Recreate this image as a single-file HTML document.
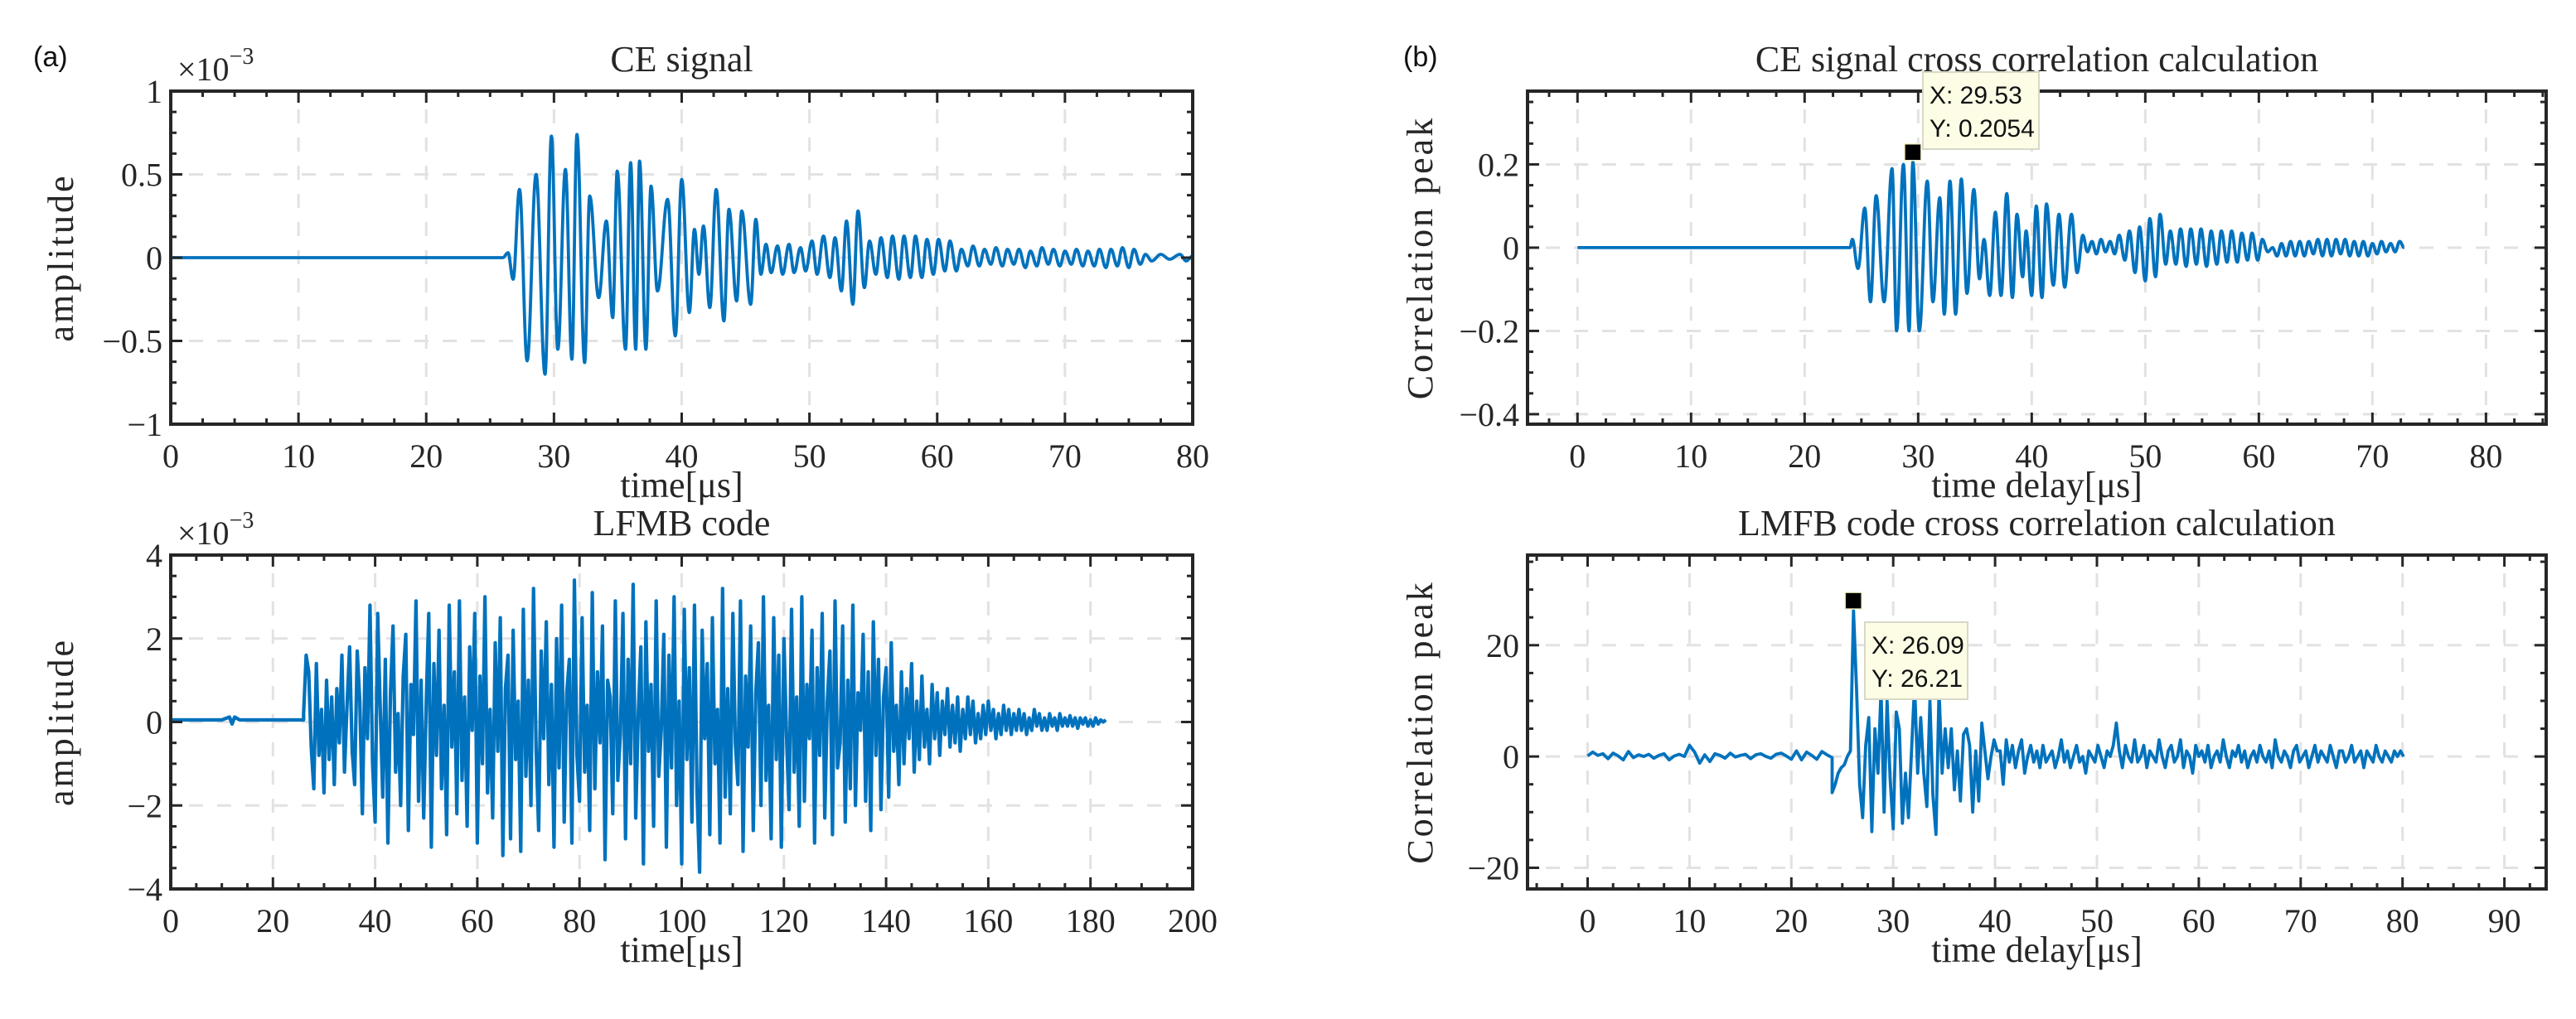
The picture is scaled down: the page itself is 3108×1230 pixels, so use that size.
<!DOCTYPE html>
<html><head><meta charset="utf-8"><style>
html,body{margin:0;padding:0;background:#fff;}
svg{display:block;}
.serif{font-family:"Liberation Serif","DejaVu Serif",serif;fill:#262626;}
.sans{font-family:"Liberation Sans","DejaVu Sans",sans-serif;fill:#111;}
</style></head><body>
<svg id="fig" width="3108" height="1230" viewBox="0 0 3108 1230" xmlns="http://www.w3.org/2000/svg"></svg>
<script>
// ---------- DATA ----------
// (a) top: CE signal extrema [time µs, amplitude x1e-3]
const ceSignal = [[0,0],[26.0,0],[26.4,0.03],[26.8,-0.13],[27.3,0.41],[27.9,-0.62],[28.6,0.5],[29.3,-0.7],[29.8,0.73],[30.3,-0.55],[30.9,0.53],[31.4,-0.61],[31.8,0.74],[32.4,-0.63],[32.8,0.37],[33.5,-0.24],[34.1,0.22],[34.6,-0.36],[34.95,0.52],[35.6,-0.55],[36.0,0.57],[36.4,-0.55],[36.7,0.58],[37.2,-0.55],[37.6,0.43],[38.1,-0.2],[38.9,0.35],[39.5,-0.47],[40.0,0.47],[40.6,-0.33],[41.0,0.17],[41.35,-0.1],[41.7,0.19],[42.2,-0.3],[42.7,0.41],[43.3,-0.38],[43.7,0.29],[44.3,-0.26],[44.7,0.28],[45.4,-0.28],[45.8,0.23],[46.2,-0.1],[46.6,0.08],[47.0,-0.09],[47.5,0.07],[47.9,-0.1],[48.4,0.08],[48.8,-0.09],[49.3,0.06],[49.7,-0.08],[50.2,0.1],[50.6,-0.1],[51.1,0.13],[51.6,-0.12],[52.0,0.12],[52.5,-0.2],[52.9,0.22],[53.4,-0.28],[53.8,0.28],[54.3,-0.18],[54.7,0.1],[55.2,-0.1],[55.6,0.12],[56.1,-0.12],[56.5,0.13],[57.0,-0.13],[57.4,0.13],[57.9,-0.12],[58.3,0.13],[58.8,-0.12],[59.2,0.11],[59.7,-0.1],[60.1,0.11],[60.6,-0.08],[61.0,0.1],[61.5,-0.08],[61.9,0.05],[62.4,-0.05],[62.8,0.07],[63.3,-0.05],[63.7,0.05],[64.2,-0.04],[64.6,0.06],[65.1,-0.05],[65.5,0.05],[66.0,-0.04],[66.4,0.05],[66.9,-0.06],[67.3,0.04],[67.8,-0.05],[68.2,0.06],[68.7,-0.04],[69.1,0.05],[69.6,-0.05],[70.0,0.04],[70.5,-0.04],[70.9,0.05],[71.4,-0.05],[71.8,0.04],[72.3,-0.05],[72.7,0.05],[73.2,-0.06],[73.6,0.05],[74.1,-0.05],[74.5,0.06],[75.0,-0.06],[75.4,0.05],[75.9,-0.04],[76.3,0.02],[76.8,-0.02],[77.5,0.02],[78.2,-0.01],[79.0,0.02],[79.5,-0.02],[80.0,0.01]];

// (a) bottom: LFMB code (x1e-3)
const lfmbPrefix = [[0,0.05],[10,0.05],[11.5,0.12],[12,-0.05],[12.5,0.12],[13.5,0.05],[26,0.05]];
const lfmbStart = 26;
const lfmbStep = 0.5;
const lfmbValues = [
0.2,1.6,1.2,-0.6,-1.6,1.4,-0.8,0.3,-1.7,1.0,-0.9,0.6,-1.5,0.8,-0.5,1.6,-1.2,0.4,1.8,-0.7,
-1.5,1.7,0.5,-2.2,1.3,-0.4,2.8,-1.0,-2.4,2.6,0.3,-1.8,1.5,-2.9,0.7,2.3,-1.2,0.2,-2.0,1.1,
2.1,-2.6,0.9,-0.3,2.9,-1.9,1.0,-2.3,0.5,2.6,-3.0,1.4,-0.8,2.2,-1.6,0.4,-2.7,2.8,-0.6,1.2,
-2.2,2.9,-1.4,0.6,-2.5,1.8,-0.2,2.6,-2.9,1.1,-1.0,3.0,-1.7,0.3,-2.3,1.9,-0.7,2.5,-3.2,0.8,
1.6,-2.8,2.2,-0.9,0.5,-3.1,2.7,-1.3,1.0,-2.0,3.2,-0.6,-2.6,1.7,-0.4,2.4,-1.5,0.9,-3.0,2.0,
-1.1,2.8,-2.4,0.7,1.5,-2.9,3.4,-0.8,-1.9,2.5,-1.2,0.4,-2.6,3.1,-1.6,1.2,-0.5,2.3,-3.3,1.0,
0.6,-2.2,2.9,-1.4,-0.3,2.6,-2.8,1.5,-1.0,3.3,-2.3,0.2,1.8,-3.4,2.4,-0.7,0.9,-2.5,2.9,-1.3,
-0.2,2.1,-3.0,1.6,-1.1,3.0,-2.0,0.5,-3.4,2.7,-0.9,1.3,-2.4,2.8,-1.7,-3.6,2.2,-0.4,1.4,-2.7,
2.5,-1.0,0.3,-2.9,3.2,-1.8,0.8,-2.2,2.6,-0.5,-1.5,2.9,-3.1,1.1,-0.6,2.3,-2.6,0.7,1.9,-2.0,
3.0,-1.4,0.4,-2.8,2.5,-0.9,1.6,-3.0,2.0,-0.3,-2.1,2.7,-1.2,0.6,-2.5,3.0,-1.9,0.9,-0.4,2.2,
-2.9,1.3,-0.8,2.6,-2.3,0.5,1.7,-2.7,2.9,-1.1,-0.5,2.3,-2.4,1.0,-1.6,2.8,-2.0,0.7,-0.2,2.1,
-1.9,1.2,-2.6,2.4,-0.8,1.5,-2.1,0.6,1.3,-1.8,1.9,-0.7,0.4,-1.5,1.2,-1.0,0.8,-0.4,1.4,-1.2,
0.5,-0.9,1.1,-0.6,0.3,-1.0,0.9,-0.4,0.7,-0.8,0.5,-0.3,0.8,-0.6,0.4,-0.5,0.6,-0.7,0.3,-0.4,
0.6,-0.3,0.5,-0.5,0.2,-0.4,0.4,-0.3,0.5,-0.2,0.3,-0.4,0.2,-0.3,0.4,-0.2,0.3,-0.3,0.2,-0.2,
0.3,-0.2,0.2,-0.3,0.1,-0.2,0.3,-0.1,0.2,-0.2,0.1,-0.2,0.2,-0.1,0.1,-0.2,0.2,-0.1,0.1,-0.1,
0.15,-0.1,0.1,-0.15,0.1,-0.05,0.1,-0.1,0.05,-0.1,0.1,-0.05,0.05,0.0,0.05];

// (b) top: CE cross correlation extrema [delay µs, value]
const ceCorr = [[0,0],[24.0,0],[24.2,0.02],[24.7,-0.05],[25.3,0.095],[25.8,-0.13],[26.3,0.125],[27.0,-0.13],[27.7,0.19],[28.1,-0.2],[28.7,0.2],[29.2,-0.2],[29.53,0.2054],[30.1,-0.2],[30.8,0.16],[31.3,-0.13],[31.9,0.12],[32.3,-0.16],[32.8,0.16],[33.3,-0.16],[33.8,0.165],[34.3,-0.11],[34.9,0.14],[35.4,-0.075],[35.8,0.02],[36.3,-0.115],[36.8,0.085],[37.3,-0.115],[37.8,0.13],[38.3,-0.12],[38.7,0.08],[39.2,-0.07],[39.5,0.04],[40.0,-0.115],[40.4,0.1],[40.9,-0.12],[41.3,0.105],[41.9,-0.09],[42.4,0.08],[42.9,-0.095],[43.5,0.08],[44.0,-0.06],[44.5,0.03],[44.9,-0.01],[45.3,0.015],[45.7,-0.015],[46.1,0.02],[46.5,-0.01],[46.9,0.015],[47.3,-0.015],[47.7,0.03],[48.2,-0.03],[48.6,0.04],[49.1,-0.06],[49.5,0.05],[50.0,-0.08],[50.4,0.07],[50.9,-0.07],[51.3,0.08],[51.8,-0.04],[52.2,0.04],[52.7,-0.04],[53.1,0.045],[53.6,-0.045],[54.0,0.045],[54.5,-0.04],[54.9,0.045],[55.4,-0.045],[55.8,0.04],[56.3,-0.04],[56.7,0.04],[57.2,-0.035],[57.6,0.04],[58.1,-0.035],[58.5,0.035],[59.0,-0.03],[59.4,0.035],[59.9,-0.03],[60.3,0.02],[60.8,-0.01],[61.2,0.0],[61.6,-0.02],[62.0,0.01],[62.4,-0.02],[62.8,0.015],[63.2,-0.02],[63.6,0.015],[64.0,-0.02],[64.4,0.015],[64.8,-0.015],[65.2,0.02],[65.6,-0.02],[66.0,0.02],[66.4,-0.02],[66.8,0.02],[67.2,-0.015],[67.6,0.02],[68.0,-0.02],[68.4,0.015],[68.8,-0.02],[69.2,0.015],[69.6,-0.02],[70.0,0.01],[70.4,-0.015],[70.8,0.015],[71.2,-0.01],[71.6,0.01],[72.0,-0.01],[72.4,0.015],[72.8,0.0]];

// (b) bottom: LMFB cross correlation
const lmfbPreStart = 0;
const lmfbPreStep = 0.5;
const lmfbPre = [0.1,0.8,0.2,0.5,-0.4,0.6,0.1,-0.6,0.9,-0.2,0.3,0.0,0.4,-0.3,0.2,0.5,-0.6,0.1,0.4,0.0,
2.0,0.8,-1.2,0.3,-0.9,0.5,0.2,-0.3,0.6,-0.1,0.2,0.4,-0.4,0.3,0.5,0.0,-0.3,0.4,0.6,0.1,
-0.5,1.0,-0.6,0.8,0.2,-0.5,0.9,0.3,-0.2];
const lmfbStart = 24.0;
const lmfbStep = 0.3;
const lmfbMain = [-6.5,-5,-3,-2,-1.5,0,1,26.21,12,-5,-11,2,7,-13.5,5,-3,12,-10,10,-4,
-13,8,5,-12,-3,-11,1,13,-3,7,-3,-9,10,-7,-14,12,-3,5,-2,5,
-6,1,-8,4,5,2,-10,1,-8,6,1,-4,0,3,1,1,-5,3,-1,2,
-2,1,3,-3,0,2,-1,1,-2,2,-1,0,1,-2,0,3,-1,1,-2,0,
2,-1,0,-3,1,0,-1,2,0,-2,1,0,2,6,1,-2,2,0,-1,3,
-1,0,2,-2,1,0,-1,3,0,-2,1,2,-1,0,3,-2,1,0,-3,2,
0,1,-1,2,-2,0,1,-1,3,0,-2,1,0,2,-1,1,-2,0,1,-1,
2,0,-1,1,-2,3,0,-1,1,0,-2,1,2,-1,0,1,-2,0,2,-1,
1,0,-1,2,0,-2,1,1,-1,0,2,-1,0,1,-2,1,0,-1,2,0,
-1,1,0,-1,1,0,1,0];

// tick labels
const a1YTicks = [-1,-0.5,0,0.5,1];
const a1YLabels = ["\u22121","\u22120.5","0","0.5","1"];
const a1XTicks = [0,10,20,30,40,50,60,70,80];
const a2YTicks = [-4,-2,0,2,4];
const a2YLabels = ["\u22124","\u22122","0","2","4"];
const a2XTicks = [0,20,40,60,80,100,120,140,160,180,200];
const b1YTicks = [-0.4,-0.2,0,0.2];
const b1YLabels = ["\u22120.4","\u22120.2","0","0.2"];
const b1XTicks = [0,10,20,30,40,50,60,70,80];
const b2YTicks = [-20,0,20];
const b2YLabels = ["\u221220","0","20"];
const b2XTicks = [0,10,20,30,40,50,60,70,80,90];

// data tips
const tipB1 = {x:29.53, y:0.2054};
const tipB2 = {x:26.09, y:26.21};

// ---------- DRAWING ----------
const NS = "http://www.w3.org/2000/svg";
const svg = document.getElementById('fig');
function mk(tag, attrs, parent){
  const e = document.createElementNS(NS, tag);
  for (const k in attrs) e.setAttribute(k, attrs[k]);
  (parent||svg).appendChild(e);
  return e;
}
function txt(s, x, y, cls, size, anchor, parent){
  const t = mk('text', {x:x, y:y, class:cls, 'font-size':size, 'text-anchor':anchor||'middle'}, parent);
  t.textContent = s;
  return t;
}

function makeAxis(c){
  const g = mk('g', {});
  
  
  const sx = v => c.x0 + (v - c.xmin) / (c.xmax - c.xmin) * (c.x1 - c.x0);
  const sy = v => c.y1 - (v - c.ymin) / (c.ymax - c.ymin) * (c.y1 - c.y0);
  const grid = mk('g', {stroke:'#e2e2e2', 'stroke-width':3, 'stroke-dasharray':'17,17', fill:'none'}, g);
  
  
  c.xticks.forEach(v => { const X = sx(v); mk('line', {x1:X, x2:X, y1:c.y0+22, y2:c.y1-4}, grid); });
  c.yticks.forEach(v => { const Y = sy(v); mk('line', {x1:c.x0+22, x2:c.x1-4, y1:Y, y2:Y}, grid); });
  return {g, sx, sy, c};
}
function finishAxis(A){
  const c = A.c, g = A.g, sx = A.sx, sy = A.sy;
  const ticks = mk('g', {stroke:'#262626', 'stroke-width':3, fill:'none'}, g);
  
  
  for (let v = Math.ceil(c.xmin / c.xminor) * c.xminor; v <= c.xmax + 1e-9; v += c.xminor) {
    const X = sx(v);
    const major = c.xticks.some(t => Math.abs(t - v) < 1e-6);
    const L = major ? 14 : 7;
    mk('line', {x1:X, x2:X, y1:c.y1, y2:c.y1-L}, ticks);
    mk('line', {x1:X, x2:X, y1:c.y0, y2:c.y0+L}, ticks);
  }
  for (let v = Math.ceil(c.ymin / c.yminor) * c.yminor; v <= c.ymax + 1e-9; v += c.yminor) {
    const Y = sy(v);
    const major = c.yticks.some(t => Math.abs(t - v) < 1e-6);
    const L = major ? 14 : 7;
    mk('line', {x1:c.x0, x2:c.x0+L, y1:Y, y2:Y}, ticks);
    mk('line', {x1:c.x1, x2:c.x1-L, y1:Y, y2:Y}, ticks);
  }
  const box = mk('rect', {x:c.x0, y:c.y0, width:c.x1-c.x0, height:c.y1-c.y0, fill:'none', stroke:'#262626', 'stroke-width':4}, g);
  
  
  const xl = mk('g', {}, g);
  
  
  c.xticks.forEach(v => txt(String(v), sx(v), c.y1 + 52, 'serif', 40, 'middle', xl));
  const yl = mk('g', {}, g);
  
  
  c.yticks.forEach((v, i) => txt(c.ylabels[i], c.x0 - 10, sy(v) + 14, 'serif', 40, 'end', yl));
  const t = txt(c.title, (c.x0 + c.x1) / 2, c.titleY, 'serif', 44, 'middle', g);
  
  
  const xt = txt(c.xlabel, (c.x0 + c.x1) / 2, c.y1 + 88, 'serif', 44, 'middle', g);
  
  
  const yc = (c.y0 + c.y1) / 2;
  const yt = txt(c.ylabel, c.ylabelX, yc, 'serif', 44, 'middle', g);
  yt.setAttribute('transform', 'rotate(-90 ' + c.ylabelX + ' ' + yc + ')');
  yt.setAttribute('letter-spacing', '3');
  
  
  if (c.exp) {
    const e = mk('text', {x:c.x0 + 8, y:c.exp, class:'serif', 'font-size':40}, g);
    
    
    const s1 = mk('tspan', {}, e); s1.textContent = '\u00d710';
    const s2 = mk('tspan', {dy:-20, 'font-size':28}, e); s2.textContent = '\u22123';
  }
}
function clip(A, id){
  const c = A.c;
  const cp = mk('clipPath', {id:id});
  mk('rect', {x:c.x0, y:c.y0, width:c.x1-c.x0, height:c.y1-c.y0}, cp);
  return 'url(#' + id + ')';
}
function smoothPath(A, pts){
  let d = 'M' + A.sx(pts[0][0]).toFixed(1) + ',' + A.sy(pts[0][1]).toFixed(1);
  for (let i = 1; i < pts.length; i++) {
    const xa = A.sx(pts[i-1][0]), ya = A.sy(pts[i-1][1]);
    const xb = A.sx(pts[i][0]), yb = A.sy(pts[i][1]);
    const dx = (xb - xa) / 2.6;
    d += 'C' + (xa+dx).toFixed(1) + ',' + ya.toFixed(1) + ' ' + (xb-dx).toFixed(1) + ',' + yb.toFixed(1) + ' ' + xb.toFixed(1) + ',' + yb.toFixed(1);
  }
  return d;
}
function linePath(A, pts){
  return pts.map((p, i) => (i ? 'L' : 'M') + A.sx(p[0]).toFixed(1) + ',' + A.sy(p[1]).toFixed(1)).join('');
}
function series(A, d, name, cp, w){
  const p = mk('path', {d:d, fill:'none', stroke:'#0072BD', 'stroke-width':w||3.8, 'stroke-linejoin':'round', 'clip-path':cp}, A.g);
  
  
}
function dataTip(A, tip, bx, by, bw, bh, name){
  const g = mk('g', {}, A.g);
  
  
  const X = A.sx(tip.x), Y = A.sy(tip.y);
  mk('rect', {x:X-10, y:Y-22, width:20, height:20, fill:'#000', stroke:'#f5f0c8', 'stroke-width':1.5}, g);
  mk('rect', {x:bx, y:by, width:bw, height:bh, fill:'#fdfde6', stroke:'#d8d8c8', 'stroke-width':2}, g);
  txt('X: ' + tip.x, bx + 8, by + 38, 'sans', 30, 'start', g);
  txt('Y: ' + tip.y, bx + 8, by + 78, 'sans', 30, 'start', g);
}

const A1 = makeAxis({name:'ce-signal-plot', x0:206, x1:1439, y0:110, y1:512, xmin:0, xmax:80, ymin:-1, ymax:1,
  xticks:a1XTicks, yticks:a1YTicks, ylabels:a1YLabels, xminor:2.5, yminor:0.125,
  title:'CE signal', titleY:86, xlabel:'time[\u03bcs]', ylabel:'amplitude', ylabelX:88, exp:97});
series(A1, smoothPath(A1, ceSignal), 'ce-signal-line', clip(A1, 'c1'));
finishAxis(A1);

const A2 = makeAxis({name:'lfmb-code-plot', x0:206, x1:1439, y0:670, y1:1073, xmin:0, xmax:200, ymin:-4, ymax:4,
  xticks:a2XTicks, yticks:a2YTicks, ylabels:a2YLabels, xminor:5, yminor:0.5,
  title:'LFMB code', titleY:646, xlabel:'time[\u03bcs]', ylabel:'amplitude', ylabelX:88, exp:657});
const lfmbPts = lfmbPrefix.concat(lfmbValues.map((v, i) => [lfmbStart + i * lfmbStep, v]));
series(A2, linePath(A2, lfmbPts), 'lfmb-code-line', clip(A2, 'c2'), 4.2);
finishAxis(A2);

const B1 = makeAxis({name:'ce-correlation-plot', x0:1843, x1:3072, y0:110, y1:512, xmin:-4.4, xmax:85.3, ymin:-0.424, ymax:0.376,
  xticks:b1XTicks, yticks:b1YTicks, ylabels:b1YLabels, xminor:2.5, yminor:0.05,
  title:'CE signal cross correlation calculation', titleY:86, xlabel:'time delay[\u03bcs]', ylabel:'Correlation peak', ylabelX:1728});
series(B1, smoothPath(B1, ceCorr), 'ce-correlation-line', clip(B1, 'c3'));
finishAxis(B1);
dataTip(B1, tipB1, 2320, 87, 140, 93, 'ce-peak-datatip');

const B2 = makeAxis({name:'lmfb-correlation-plot', x0:1843, x1:3072, y0:670, y1:1073, xmin:-5.9, xmax:94.1, ymin:-23.8, ymax:36.2,
  xticks:b2XTicks, yticks:b2YTicks, ylabels:b2YLabels, xminor:2.5, yminor:5,
  title:'LMFB code cross correlation calculation', titleY:646, xlabel:'time delay[\u03bcs]', ylabel:'Correlation peak', ylabelX:1728});
const lmfbPts = lmfbPre.map((v, i) => [lmfbPreStart + i * lmfbPreStep, v]).concat(lmfbMain.map((v, i) => [lmfbStart + i * lmfbStep, v]));
series(B2, linePath(B2, lmfbPts), 'lmfb-correlation-line', clip(B2, 'c4'));
finishAxis(B2);
dataTip(B2, tipB2, 2250, 751, 124, 93, 'lmfb-peak-datatip');

const la = txt('(a)', 40, 80, 'sans', 34, 'start');


const lb = txt('(b)', 1693, 80, 'sans', 34, 'start');


</script>
</body></html>
